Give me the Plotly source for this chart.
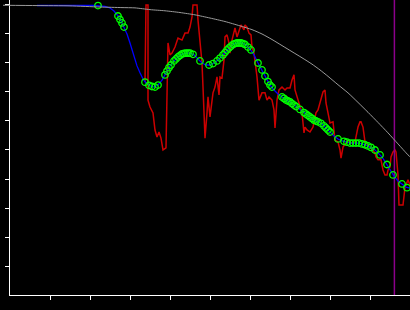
import plotly.graph_objects as go

# Gray reference curve
gray_x = [-1.75, 6.75, 15, 22.5, 28, 31.25, 35, 38.75, 42.5, 46.25, 50, 53.75, 57.5, 60.5, 63,
          65.5, 68, 70.5, 73, 75.5, 77.5, 79.5, 82, 84.5, 87, 89.5, 92, 94.5, 97, 99.5, 100.5]
gray_y = [99.9, 99.8, 99.7, 99.3, 99.1, 99.0, 98.4, 98.0, 97.4, 96.6, 95.5, 94.3, 92.8, 91.5, 90.0,
          88.1, 86.0, 83.9, 81.8, 79.6, 77.6, 75.4, 72.5, 69.7, 66.4, 63.0, 59.5, 55.9, 52.1, 48.3, 47.0]

# Red noisy series
red_x = [33.75, 34.0, 34.5, 34.5, 35.0, 35.75, 36.25, 36.75, 37.25, 37.75, 38.25, 39.0, 39.5, 40.0,
         40.5, 41.25, 42.0, 43.0, 43.75, 44.5, 45.0, 45.5, 45.75, 46.75, 47.0, 47.5, 48.0, 48.25,
         48.75, 49.25, 49.5, 50.0, 50.5, 50.75, 51.25, 51.75, 52.25, 52.5, 53.0, 53.5, 53.75, 54.25,
         54.75, 55.0, 55.5, 56.25, 56.75, 57.25, 57.75, 58.5, 58.75, 59.25, 59.75, 60.25, 60.5, 61.0,
         61.25, 61.75, 62.25, 63.0, 63.75, 64.25, 64.75, 65.5, 66.0, 66.25, 66.75, 67.25, 68.0, 68.75,
         69.25, 70.0, 70.5, 71.0, 71.25, 71.75, 72.5, 73.0, 73.5, 73.75, 74.25, 75.0, 75.75, 76.5,
         77.0, 77.5, 78.25, 78.75, 79.0, 79.5, 80.0, 80.75, 81.25, 82.0, 82.5, 82.75, 83.25, 84.0,
         84.5, 85.25, 86.25, 86.5, 87.0, 87.5, 87.75, 88.25, 88.75, 89.5, 90.0, 90.75, 91.25, 91.5,
         92.0, 92.75, 93.25, 93.75, 94.25, 94.5, 95.0, 95.25, 95.75, 96.25, 96.5, 97.0, 97.25, 98.25,
         98.75, 99.5, 100.0]
red_y = [73.4, 100.0, 100.0, 67.2, 64.8, 62.8, 56.9, 54.5, 56.2, 54.1, 50.0, 50.7, 86.9, 82.8,
         83.4, 85.5, 88.6, 87.9, 90.3, 90.3, 92.4, 95.9, 100.0, 100.0, 94.8, 87.9, 80.0, 71.7,
         54.1, 62.8, 68.3, 61.4, 67.2, 69.7, 71.7, 75.2, 69.0, 75.2, 74.8, 81.0, 89.0, 89.7,
         86.9, 83.4, 87.9, 92.1, 89.0, 91.4, 93.1, 91.4, 93.1, 92.4, 90.3, 89.7, 85.5, 83.4,
         81.0, 75.2, 67.2, 69.7, 69.7, 67.2, 68.3, 67.2, 63.8, 57.6, 67.2, 70.7, 71.7, 70.7,
         71.4, 71.4, 74.1, 75.9, 70.7, 68.3, 64.8, 62.8, 55.9, 57.9, 56.9, 56.2, 57.9, 62.8,
         63.8, 66.2, 70.0, 70.7, 66.2, 62.8, 59.3, 59.7, 53.4, 52.8, 50.0, 47.2, 51.0, 52.4,
         53.4, 52.4, 52.8, 54.5, 57.9, 59.7, 59.7, 57.9, 52.8, 51.7, 51.0, 50.0, 49.0, 47.6,
         46.6, 46.6, 43.1, 41.4, 41.4, 43.1, 44.1, 47.6, 49.3, 50.0, 49.3, 41.4, 31.0, 31.0,
         37.2, 39.7, 37.9]

# Blue smooth fit
blue_x = [6.75, 21.25, 23.75, 25, 26, 27, 27.75, 28.5, 29.25, 30, 30.75, 31.75, 32.5, 33.25, 34,
          35, 36, 37, 38, 39, 40, 41, 42, 43, 44, 45, 46, 47, 48, 49, 50, 51, 52, 53, 54, 55, 56,
          57, 58, 59, 60, 61, 62, 63, 64, 65, 66, 67, 68, 69, 70, 71, 72, 73, 74, 75, 76, 77, 78,
          79, 80, 81, 82, 83, 84, 85, 86, 87, 88, 89, 90, 91, 92, 93, 94, 95, 96, 97, 98, 99, 100]
blue_y = [99.83, 99.83, 99.48, 98.97, 97.93, 96.21, 94.48, 92.41, 90.0, 86.9, 83.1, 79.0, 76.6,
          74.5, 73.1, 72.1, 71.7, 72.4, 74.1, 76.6, 79.0, 80.7, 82.1, 83.1, 83.4, 83.4, 82.8,
          81.4, 80.0, 79.3, 79.3, 80.0, 81.0, 82.4, 84.1, 85.5, 86.6, 86.9, 86.9, 86.2, 84.8,
          82.8, 80.0, 77.6, 74.8, 72.4, 70.7, 69.3, 68.3, 67.2, 66.6, 65.5, 64.5, 63.4, 62.4,
          61.4, 60.3, 59.7, 59.0, 57.6, 56.2, 54.8, 53.8, 53.1, 52.8, 52.4, 52.4, 52.4, 52.1,
          51.7, 51.0, 50.3, 49.0, 47.6, 45.5, 43.1, 41.0, 39.3, 38.3, 37.2, 36.9]

# Green sample markers
mark_x = [22, 27, 27.5, 28, 28.5, 33.75, 34.75, 35.5, 36.25, 37, 38.75, 39.25, 39.75, 40.25, 41,
          41.5, 42, 42.5, 43, 43.5, 44, 44.5, 45, 45.75, 47.5, 49.75, 50.75, 51.75, 52.5, 53.25,
          53.75, 54.25, 54.75, 55.25, 55.75, 56.25, 56.75, 57.25, 57.75, 58.25, 58.75, 59.5,
          60.25, 62, 63, 63.75, 64.5, 65, 65.5, 68, 68.5, 69, 69.5, 70, 70.5, 71, 71.5, 72.5,
          73.5, 74, 74.5, 75, 75.5, 76, 76.5, 77, 77.75, 78.5, 79, 79.5, 80, 82, 83.5, 84.25,
          85, 85.75, 86.5, 87.25, 88, 88.75, 89.5, 90.25, 91.25, 92.5, 94.25, 95.75, 98, 99.25]
mark_y = [99.8, 96.2, 95.0, 93.8, 92.4, 73.4, 72.3, 71.9, 71.7, 72.4, 75.9, 77.2, 78.4, 79.3, 80.7,
          81.4, 82.1, 82.6, 83.1, 83.3, 83.4, 83.4, 83.4, 83.0, 80.7, 79.3, 79.8, 80.7, 81.7, 82.8,
          83.6, 84.5, 85.2, 85.8, 86.4, 86.7, 86.9, 86.9, 86.9, 86.7, 86.4, 85.5,
          84.5, 80.0, 77.6, 75.5, 73.6, 72.4, 71.7, 68.3, 67.8, 67.2, 66.9, 66.6, 66.0, 65.5, 65.0, 64.0,
          62.9, 62.4, 61.9, 61.4, 60.9, 60.3, 60.0, 59.7, 59.2, 58.3, 57.6, 56.9, 56.2, 53.8, 53.0, 52.7,
          52.4, 52.4, 52.4, 52.4, 52.1, 51.8, 51.4, 50.9, 50.0, 48.3, 45.0, 41.4, 38.3, 37.0]

# Vertical marker line
vline_x = 96.1
y_top = 101.72

x_ticks = [10, 20, 30, 40, 50, 60, 70, 80, 90]
y_ticks = [10, 20, 30, 40, 50, 60, 70, 80, 90, 100]

fig = go.Figure()
fig.add_trace(go.Scatter(x=gray_x, y=gray_y, mode="lines", xaxis="x2", yaxis="y",
                         line=dict(color="#9a9a9a", width=1, shape="spline", smoothing=0.6),
                         hoverinfo="skip"))
fig.add_trace(go.Scatter(x=red_x, y=red_y, mode="lines",
                         line=dict(color="#cc0000", width=1.5)))
fig.add_trace(go.Scatter(x=[vline_x, vline_x], y=[0, y_top], mode="lines",
                         line=dict(color="#8b008b", width=1.5)))
fig.add_trace(go.Scatter(x=blue_x, y=blue_y, mode="lines",
                         line=dict(color="#0000ff", width=1.3)))
fig.add_trace(go.Scatter(x=mark_x, y=mark_y, mode="markers",
                         marker=dict(symbol="circle-open", size=6.5,
                                     color="#00ff00", line=dict(width=1.3, color="#00ff00"))))

fig.update_layout(
    width=410, height=310,
    margin=dict(l=0, r=0, t=0, b=15),
    paper_bgcolor="black", plot_bgcolor="rgba(0,0,0,0)",
    showlegend=False,
    xaxis=dict(domain=[10/410, 1], range=[0, 100], showgrid=False, zeroline=False,
               showline=True, linecolor="white", linewidth=1.3,
               ticks="outside", ticklen=4, tickwidth=1, tickcolor="white",
               tickvals=x_ticks, showticklabels=False),
    xaxis2=dict(domain=[0, 1], range=[-2.5, 100], anchor="y", visible=False),
    yaxis=dict(range=[0, y_top], showgrid=False, zeroline=False,
               showline=True, linecolor="white", linewidth=1.3,
               ticks="outside", ticklen=4, tickwidth=1, tickcolor="white",
               tickvals=y_ticks, showticklabels=False),
)

fig.write_html("out.html")
